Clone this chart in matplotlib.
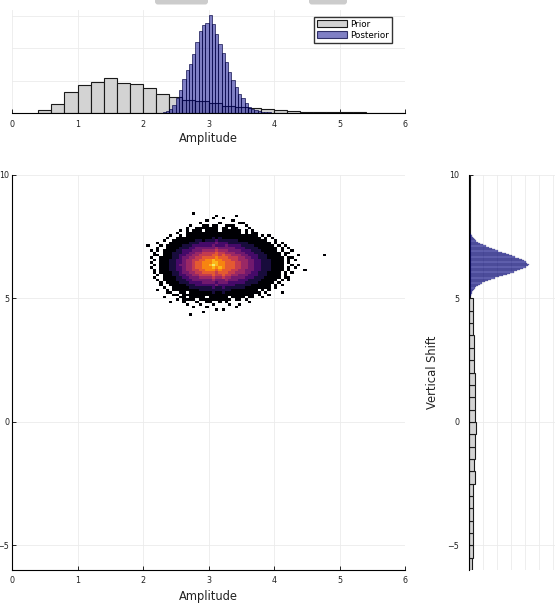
import matplotlib.pyplot as plt
import numpy as np
from matplotlib.patches import Patch, FancyBboxPatch

# ---- Amplitude marginal (density) ----
amp_prior_start, amp_prior_width = 0.4, 0.2
amp_prior = [0.05, 0.14, 0.32, 0.43, 0.48, 0.54, 0.46, 0.45, 0.38, 0.30,
             0.25, 0.20, 0.18, 0.15, 0.11, 0.09, 0.08, 0.06, 0.04, 0.03,
             0.02, 0.015, 0.011, 0.009, 0.008, 0.006, 0.005, 0.005]
amp_post_start, amp_post_width = 2.25, 0.05
amp_post = [0.005, 0.011, 0.026, 0.062, 0.128, 0.235, 0.349, 0.528, 0.657, 0.758,
            0.912, 1.092, 1.262, 1.349, 1.389, 1.512, 1.374, 1.211, 1.066, 0.923,
            0.785, 0.631, 0.503, 0.400, 0.297, 0.235, 0.154, 0.092, 0.066, 0.042,
            0.026, 0.015, 0.011, 0.008, 0.005, 0.005]

# ---- Vertical Shift marginal (density) ----
vs_prior_start, vs_prior_width = -6.0, 0.5
vs_prior = [0.059, 0.066, 0.071, 0.066, 0.071, 0.077, 0.077, 0.102, 0.095, 0.102,
            0.102, 0.120, 0.107, 0.107, 0.102, 0.107, 0.089, 0.089, 0.084, 0.077,
            0.071, 0.066, 0.018, 0.018, 0.018, 0.018, 0.014, 0.014, 0.011, 0.011,
            0.009, 0.009]
vs_post_start, vs_post_width = 5.0, 0.05
vs_post = [0.01, 0.02, 0.03, 0.04, 0.05, 0.05, 0.07, 0.09, 0.11, 0.13,
           0.16, 0.20, 0.23, 0.29, 0.34, 0.39, 0.46, 0.54, 0.61, 0.68,
           0.73, 0.80, 0.86, 0.91, 0.96, 1.02, 1.05, 1.07, 1.04, 1.02,
           0.98, 0.95, 0.89, 0.82, 0.77, 0.71, 0.66, 0.59, 0.52, 0.46,
           0.41, 0.36, 0.30, 0.25, 0.20, 0.16, 0.13, 0.11, 0.09, 0.07,
           0.05, 0.04, 0.02, 0.01]

# ---- joint posterior, colour level 0-9 per cell, '.' = empty ----
# columns: Amplitude from 2.0 in steps of 0.05 ; rows: Vertical Shift from 8.6 down in steps of 0.1
joint_x0, joint_dx, joint_ncols = 2.0, 0.05, 56
joint_y0, joint_dy = 8.6, 0.1
joint_rows = [
    "",
    "..........|.....0",
    "..........|..........|..0.....0",
    "..........|..........|.0..0",
    "..........|.........0|.......0",
    "..........|.......0..|...0.....0|0",
    "..........|....0...00|.00..000..|.0",
    "..........|...0..0000|000.00.00.|..0",
    "..........|.0.0.000.0|000.000000|.0.0",
    "..........|0..0000000|0000000000|.0.00",
    "........0.|.0.0000000|0000000000|00000.0.0",
    ".......0..|0000000000|0101000000|000000.0.0",
    "......0..0|0000001101|1121111110|00000000..|0",
    "....0...00|0000111222|2232221111|110000000.|0.0",
    ".0...0.000|0011122222|2322232222|1111000000|.0.0",
    "....0..000|0111223333|3343333322|2111100000|0.0.0",
    "..0.0.0000|1122233344|4454443333|2221110000|0.0..0",
    "...0..0001|1122334455|5565544433|3222111000|00.00",
    "...00.0001|1223344555|5665655444|3322211100|00.0...0..|.....0",
    "..0..00001|1233445566|6676665554|4332211100|000.00",
    "...0.00011|2234455667|7877666554|4433221110|000.0.0",
    "..0..00011|2234456677|7887766655|4433221110|000.0",
    "...0.00011|2334456677|8987766655|4433221110|000..0.0",
    "..0..00011|2234456677|7878766655|4433221110|000.0.0",
    "...0.00011|2234455667|7767666554|4333221110|000.0....0",
    "...0.00001|1233445566|6656665544|4332211100|00.0.0",
    "....0.0001|1223344555|5655655443|3322211100|00.0",
    "...0..0000|1122333444|4544544333|3222111000|00.00",
    "....0.0000|1112233333|3433343332|2211110000|0.0.0",
    ".....0.000|0111222233|3323332222|2111100000|.0",
    ".....0..00|0001112222|2232222211|111000000.|0.0",
    "......0..0|0000111111|1211211111|100000000.|0",
    "....0..0.0|0000000111|1111111000|00000.0.0",
    ".......00.|.00.000000|0100100000|000000.0..|..0",
    ".........0|0.00000000|0000000000|0000.0..0",
    "......0...|.00.00000.|000000.000|0.00..0",
    "..........|0.0000.000|0000000.00|.0",
    "........0.|..0...0..0|0..0.0....|..0",
    "..........|...0...0..|.0....0..0",
    "..........|.....0...0|........0",
    "..........|..........|..0.0",
    "..........|........0",
    "..........|....0",
]

prior_fc = "#d3d3d3"
prior_ec = "#1a1a1a"
post_fc = (0.0, 0.0, 0.545, 0.5)
post_ec = (0.0, 0.0, 0.25, 0.75)
grid_c = "#ebebeb"
text_c = "#222222"

plt.rcParams["font.family"] = "DejaVu Sans"

W, H = 555, 603
fig = plt.figure(figsize=(W / 100, H / 100), dpi=100)
ax_top = fig.add_axes([12 / W, 1 - 113 / H, 393 / W, 103 / H])
ax_main = fig.add_axes([12 / W, 1 - 570 / H, 393 / W, 395 / H])
ax_right = fig.add_axes([469 / W, 1 - 570 / H, 131 / W, 395 / H])


def style(ax, keep):
    for side in ["top", "bottom", "left", "right"]:
        ax.spines[side].set_visible(side in keep)
        ax.spines[side].set_linewidth(0.8)
        ax.spines[side].set_color("black")
    ax.grid(True, color=grid_c, lw=0.6)
    ax.set_axisbelow(True)
    ax.tick_params(direction="in", length=3, width=0.6, labelsize=5.8,
                   labelcolor=text_c, color="black")


# ---- top: Amplitude marginal ----
edges = amp_prior_start + amp_prior_width * np.arange(len(amp_prior))
ax_top.bar(edges, amp_prior, width=amp_prior_width, align="edge",
           facecolor=prior_fc, edgecolor=prior_ec, linewidth=0.8)
edges = amp_post_start + amp_post_width * np.arange(len(amp_post))
ax_top.bar(edges, amp_post, width=amp_post_width, align="edge",
           facecolor=post_fc, edgecolor=post_ec, linewidth=0.6)
ax_top.set_xlim(0, 6)
ax_top.set_ylim(0, 1.585)
ax_top.set_xticks(range(7))
ax_top.set_yticks([0.5, 1.0, 1.5])
style(ax_top, ["bottom"])
ax_top.tick_params(axis="x", pad=5)
ax_top.tick_params(axis="y", length=0, labelleft=False)
ax_top.set_xlabel("Amplitude", fontsize=8.3, color=text_c, va="center")
ax_top.xaxis.set_label_coords(0.5, -0.245)
handles = [Patch(facecolor=prior_fc, edgecolor=prior_ec, linewidth=0.8, label="Prior"),
           Patch(facecolor=post_fc, edgecolor=post_ec, linewidth=0.8, label="Posterior")]
leg = ax_top.legend(handles=handles, loc="upper right", bbox_to_anchor=(0.967, 0.935),
                    borderaxespad=0, fontsize=6.3, fancybox=False, framealpha=1,
                    edgecolor="#333333", handlelength=3.4, handleheight=0.9,
                    handletextpad=0.4, borderpad=0.35, labelspacing=0.2)
leg.get_frame().set_linewidth(1.0)

# ---- main: joint heatmap ----
cells = np.full((len(joint_rows), joint_ncols), np.nan)
for i, row in enumerate(joint_rows):
    row = row.replace("|", "").ljust(joint_ncols, ".")
    for j, ch in enumerate(row[:joint_ncols]):
        if ch != ".":
            cells[i, j] = int(ch)
xe = joint_x0 + joint_dx * np.arange(joint_ncols + 1)
ye = joint_y0 - joint_dy * np.arange(len(joint_rows) + 1)
ax_main.pcolormesh(xe, ye, np.ma.masked_invalid(cells), cmap="inferno",
                   vmin=0, vmax=9.6, shading="flat", antialiased=False)
ax_main.set_xlim(0, 6)
ax_main.set_ylim(-6, 10)
ax_main.set_xticks(range(7))
ax_main.set_yticks([-5, 0, 5, 10])
style(ax_main, ["bottom", "left"])
ax_main.tick_params(axis="x", pad=4)
ax_main.tick_params(axis="y", pad=2)
ax_main.set_xlabel("Amplitude", fontsize=8.3, color=text_c, va="center")
ax_main.xaxis.set_label_coords(0.5, -0.066)

# ---- right: Vertical Shift marginal ----
edges = vs_prior_start + vs_prior_width * np.arange(len(vs_prior))
ax_right.barh(edges, vs_prior, height=vs_prior_width, align="edge",
              facecolor=prior_fc, edgecolor=prior_ec, linewidth=0.8)
edges = vs_post_start + vs_post_width * np.arange(len(vs_post))
ax_right.barh(edges, vs_post, height=vs_post_width, align="edge",
              facecolor=(0.0, 0.0, 0.545, 0.55), edgecolor=(0.0, 0.0, 0.3, 0.45),
              linewidth=0.3)
ax_right.set_ylim(-6, 10)
ax_right.set_xlim(0, 131 / 56)
ax_right.set_xticks(np.arange(0.25, 2.35, 0.25))
ax_right.set_yticks([-5, 0, 5, 10])
style(ax_right, ["left"])
ax_right.tick_params(axis="x", length=0, labelbottom=False)
ax_right.tick_params(axis="y", pad=7)
ax_right.set_ylabel("Vertical Shift", fontsize=8.3, color=text_c, va="center")
ax_right.yaxis.set_label_coords(-0.275, 0.5)

# bits of page chrome cut off at the top edge
for x0, x1 in [(155, 208), (309, 347)]:
    fig.patches.append(FancyBboxPatch((x0 / W, 1 - 4.5 / H), (x1 - x0) / W, 0.03,
                                      boxstyle="round,pad=0,rounding_size=0.005",
                                      transform=fig.transFigure, facecolor="#cccccc",
                                      edgecolor="none"))

fig.savefig("out.png", dpi=100)
